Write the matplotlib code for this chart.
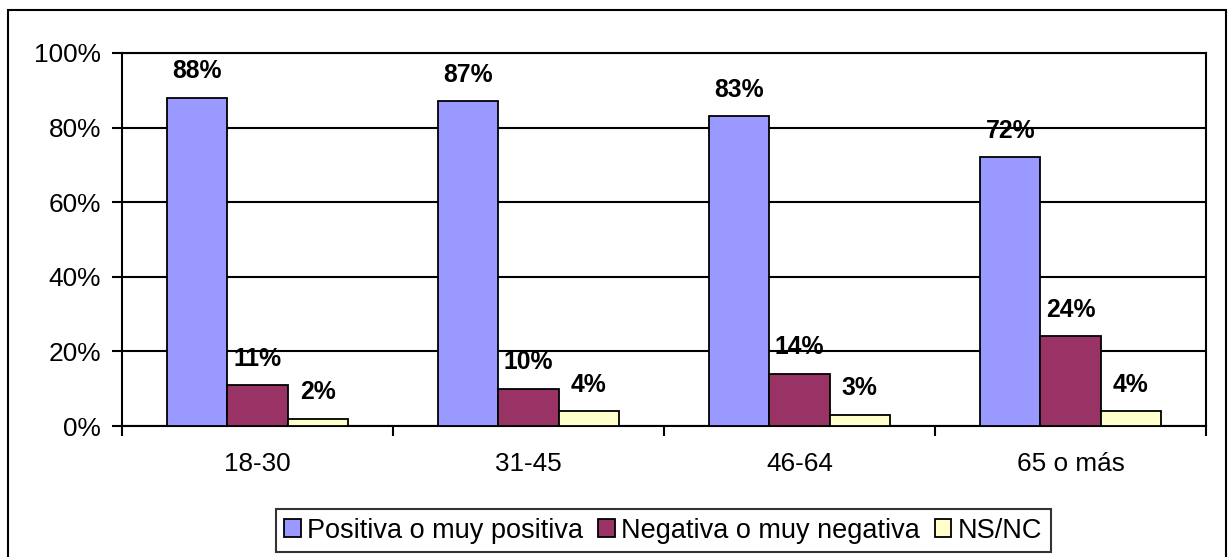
import numpy as np
import matplotlib.pyplot as plt
from matplotlib.patches import Rectangle

plt.rcParams['font.family'] = ['Liberation Sans', 'DejaVu Sans']

categories = ['18-30', '31-45', '46-64', '65 o más']
series_names = ['Positiva o muy positiva', 'Negativa o muy negativa', 'NS/NC']
positiva = [88, 87, 83, 72]
negativa = [11, 10, 14, 24]
nsnc = [2, 4, 3, 4]
colors = ['#9999FF', '#993366', '#FFFFCC']

W, H = 1231, 557
fig = plt.figure(figsize=(W / 100, H / 100), dpi=100)
ax = fig.add_axes([122 / W, 1 - 426 / H, (1206 - 122) / W, (426 - 53) / H])

x = np.arange(len(categories))
bw = 60 / 270.75
for i, (vals, name, col) in enumerate(zip([positiva, negativa, nsnc], series_names, colors)):
    pos = x + (i - 1) * bw
    ax.bar(pos, vals, width=bw, color=col, edgecolor='black', linewidth=1.3,
           label=name, zorder=3)
    for px, v in zip(pos, vals):
        ax.annotate(f'{v}%', (px, v), xytext=(0, 19), textcoords='offset points',
                    ha='center', va='center', fontsize=17.8, fontweight='bold', zorder=4)

ax.set_xlim(-0.5, len(categories) - 0.5)
ax.set_ylim(0, 100)
ax.set_yticks(np.arange(0, 101, 20))
ax.set_yticklabels([f'{t}%' for t in range(0, 101, 20)], fontsize=18.9)
ax.yaxis.grid(True, color='black', linewidth=1.5, zorder=0)
ax.set_axisbelow(True)

ax.set_xticks(x)
ax.set_xticklabels(categories, fontsize=18.8)
ax.tick_params(axis='x', length=0, pad=19)
ax.set_xticks(np.arange(-0.5, len(categories)), minor=True)
ax.tick_params(axis='x', which='minor', length=7, width=1.5, direction='out')
ax.tick_params(axis='y', length=7, width=1.5, direction='out', pad=8)

for s in ax.spines.values():
    s.set_linewidth(1.5)
    s.set_color('black')

# outer chart border
fig.patches.append(Rectangle((8 / W, -0.05), (1226 - 8) / W, 1.05 - 10 / H,
                             transform=fig.transFigure, fill=False,
                             edgecolor='black', linewidth=1.5, clip_on=False))

leg = fig.legend(loc='center', bbox_to_anchor=(663.5 / W, 1 - 530.5 / H), ncol=3,
                 fontsize=19.5, frameon=True, fancybox=False, edgecolor='black',
                 handlelength=0.6, handleheight=0.6, handletextpad=0.25,
                 columnspacing=0.55, borderpad=0.3, borderaxespad=0)
leg.get_frame().set_linewidth(1.5)

fig.savefig('out.png', dpi=100)
